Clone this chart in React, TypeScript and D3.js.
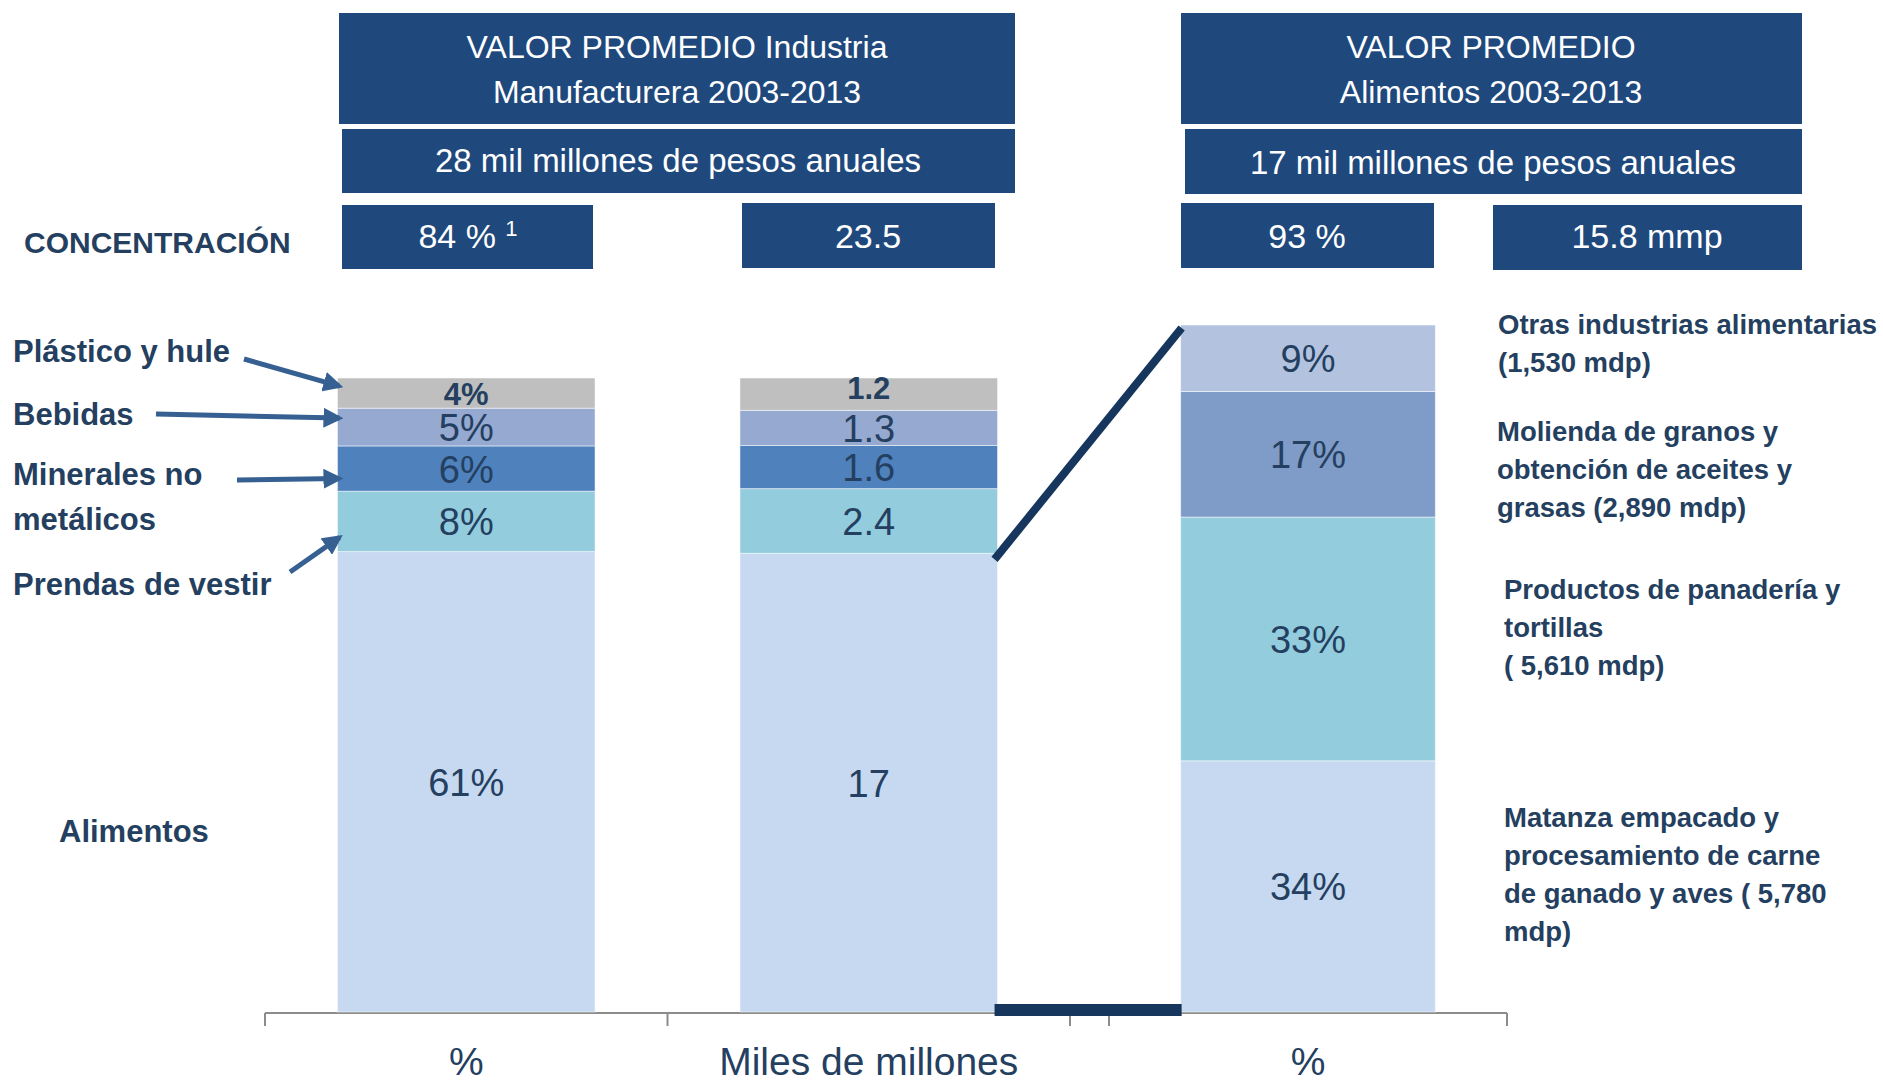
import React from 'react';
import * as d3 from 'd3';

// Industria manufacturera: five biggest branches
const sectors = ['Alimentos', 'Prendas de vestir', 'Minerales no metálicos', 'Bebidas', 'Plástico y hule'];
const sharePct = [61, 8, 6, 5, 4];
const valueMmp = [17, 2.4, 1.6, 1.3, 1.2];
const sectorColors = ['#C6D9F0', '#93CDDD', '#4F81BD', '#95A9D1', '#BFBFBF'];

// Alimentos: four branches
const foodBranches = ['Matanza', 'Panadería', 'Molienda', 'Otras'];
const foodPct = [34, 33, 17, 9];
const foodMdp = [5780, 5610, 2890, 1530];
const foodColors = ['#C6D9F0', '#93CDDD', '#7F9BC7', '#B3C3DF'];

const chart1Cats = ['%', 'Miles de millones'];
const chart2Cats = ['%'];

const W = 1883;
const H = 1084;
const NAVY = '#1F497D';
const INK = '#243F60';
const FONT = "'Liberation Sans', Arial, sans-serif";

const base = 1012;

const x1 = d3.scaleBand<string>().domain(chart1Cats).range([265, 1070]).paddingInner(0.36).paddingOuter(0.18);
const x2 = d3.scaleBand<string>().domain(chart2Cats).range([1109, 1507]).paddingInner(0.36).paddingOuter(0.18);
const y1 = d3.scaleLinear().domain([0, 1]).range([base, 378]);
const y2 = d3.scaleLinear().domain([0, 1]).range([base, 325]);

const rows1 = chart1Cats.map((c, i) => {
  const r: any = { cat: c };
  sectors.forEach((s, j) => { r[s] = i === 0 ? sharePct[j] : valueMmp[j]; });
  return r;
});
const stack1 = d3.stack<any>().keys(sectors).offset(d3.stackOffsetExpand)(rows1);

const row2: any = { cat: '%' };
foodBranches.forEach((b, j) => { row2[b] = foodPct[j]; });
const stack2 = d3.stack<any>().keys(foodBranches).offset(d3.stackOffsetExpand)([row2]);

const fmt = d3.format(',');
const totalPct = d3.sum(sharePct);
const totalMmp = d3.sum(valueMmp);
const foodTotalPct = d3.sum(foodPct);
const foodTotalMmp = d3.format('.1f')(d3.sum(foodMdp) / 1000);

// right side labels (lines, first baseline offset from segment center, x)
const foodLabels = [
  { lines: ['Matanza empacado y', 'procesamiento de carne', `de ganado y aves ( ${fmt(foodMdp[0])}`, 'mdp)'], dy: -59, x: 1504 },
  { lines: ['Productos de panadería y', 'tortillas', `( ${fmt(foodMdp[1])} mdp)`], dy: -40, x: 1504 },
  { lines: ['Molienda de granos y', 'obtención de aceites y', `grasas (${fmt(foodMdp[2])} mdp)`], dy: -13, x: 1497 },
  { lines: ['Otras industrias alimentarias', `(${fmt(foodMdp[3])} mdp)`], dy: -24, x: 1498 },
];

const Box = ({ x0, y0, x1b, y1b, children }: any) => (
  <g>
    <rect x={x0} y={y0} width={x1b - x0} height={y1b - y0} fill={NAVY} />
    {children}
  </g>
);

export default function App() {
  const segMid = (s: any) => (s[0][0] + s[0][1]) / 2;
  const bw1 = x1.bandwidth();
  const bw2 = x2.bandwidth();
  const alimTop = y1(stack1[0][1][1]);
  const bar2Right = (x1('Miles de millones') as number) + bw1;
  const bar3Left = x2('%') as number;

  // arrow targets on the % bar (left annotations)
  const leftBarX = (x1('%') as number) + 2;
  const arrowDefs = [
    { key: 'Plástico y hule', from: [244, 359], dy: -7 },
    { key: 'Bebidas', from: [156, 414], dy: -9 },
    { key: 'Minerales no metálicos', from: [237, 480], dy: 10 },
    { key: 'Prendas de vestir', from: [290, 572], dy: 16 },
  ];
  const topDy = [12, 5];

  return (
    <svg width={W} height={H} style={{ position: 'absolute', left: 0, top: 0, display: 'block', background: '#fff' }} fontFamily={FONT}>
      <defs>
        <marker id="ah" viewBox="0 0 10 10" refX="8" refY="5" markerWidth="4" markerHeight="4" orient="auto">
          <path d="M0,0 L10,5 L0,10 z" fill="#376092" />
        </marker>
      </defs>

      {/* header boxes */}
      <Box x0={339} y0={13} x1b={1015} y1b={124}>
        <text x={677} y={58} fill="#fff" fontSize={32} textAnchor="middle">VALOR PROMEDIO Industria</text>
        <text x={677} y={103} fill="#fff" fontSize={32} textAnchor="middle">Manufacturera 2003-2013</text>
      </Box>
      <Box x0={342} y0={129} x1b={1015} y1b={193}>
        <text x={678} y={172} fill="#fff" fontSize={33} textAnchor="middle">28 mil millones de pesos anuales</text>
      </Box>
      <Box x0={1181} y0={13} x1b={1802} y1b={124}>
        <text x={1491} y={58} fill="#fff" fontSize={32} textAnchor="middle">VALOR PROMEDIO</text>
        <text x={1491} y={103} fill="#fff" fontSize={32} textAnchor="middle">Alimentos 2003-2013</text>
      </Box>
      <Box x0={1185} y0={129} x1b={1802} y1b={194}>
        <text x={1493} y={174} fill="#fff" fontSize={33} textAnchor="middle">17 mil millones de pesos anuales</text>
      </Box>

      <text x={24} y={253} fill={INK} fontSize={30} fontWeight="bold">CONCENTRACIÓN</text>
      <Box x0={342} y0={205} x1b={593} y1b={269}>
        <text x={468} y={248} fill="#fff" fontSize={34} textAnchor="middle">
          {`${totalPct} % `}<tspan fontSize={22} dy={-12}>1</tspan>
        </text>
      </Box>
      <Box x0={742} y0={203} x1b={995} y1b={268}>
        <text x={868} y={248} fill="#fff" fontSize={34} textAnchor="middle">{totalMmp}</text>
      </Box>
      <Box x0={1181} y0={203} x1b={1434} y1b={268}>
        <text x={1307} y={248} fill="#fff" fontSize={34} textAnchor="middle">{`${foodTotalPct} %`}</text>
      </Box>
      <Box x0={1493} y0={205} x1b={1802} y1b={270}>
        <text x={1647} y={248} fill="#fff" fontSize={34} textAnchor="middle">{`${foodTotalMmp} mmp`}</text>
      </Box>

      {/* axis */}
      <g stroke="#8C8C8C" strokeWidth={2} fill="none">
        <line x1={265} x2={1070} y1={base + 1} y2={base + 1} />
        <line x1={1109} x2={1507} y1={base + 1} y2={base + 1} />
        {[265, 1070, 1109, 1507, (x1('Miles de millones') as number) - x1.step() * 0.18].map((t, i) => (
          <line key={i} x1={t} x2={t} y1={base + 1} y2={base + 14} />
        ))}
      </g>

      {/* chart 1 bars */}
      {stack1.map((layer, li) => (
        <g key={layer.key} fill={sectorColors[li]}>
          {layer.map((s: any, bi: number) => (
            <rect key={bi} x={x1(chart1Cats[bi])} y={y1(s[1])} width={bw1} height={y1(s[0]) - y1(s[1])}
              stroke="#fff" strokeOpacity={0.5} strokeWidth={1} />
          ))}
        </g>
      ))}
      {stack1.map((layer, li) =>
        layer.map((s: any, bi: number) => {
          const v = bi === 0 ? `${sharePct[li]}%` : `${valueMmp[li]}`;
          const isTop = li === sectors.length - 1;
          return (
            <text key={`${li}-${bi}`} x={(x1(chart1Cats[bi]) as number) + bw1 / 2} y={y1((s[0] + s[1]) / 2)}
              dy={isTop ? topDy[bi] : 14} textAnchor="middle" fill={INK}
              fontSize={isTop ? 31 : 38} fontWeight={isTop ? 'bold' : 'normal'}>{v}</text>
          );
        })
      )}

      {/* chart 2 bars */}
      {stack2.map((layer, li) => (
        <rect key={layer.key} x={bar3Left} y={y2(layer[0][1])} width={bw2} height={y2(layer[0][0]) - y2(layer[0][1])}
          fill={foodColors[li]} stroke="#fff" strokeOpacity={0.5} strokeWidth={1} />
      ))}
      {stack2.map((layer, li) => (
        <text key={layer.key} x={bar3Left + bw2 / 2} y={y2((layer[0][0] + layer[0][1]) / 2)} dy={14}
          textAnchor="middle" fill={INK} fontSize={38}>{`${foodPct[li]}%`}</text>
      ))}

      {/* zoom connectors */}
      <line x1={bar2Right - 3} y1={alimTop + 6} x2={bar3Left + 1} y2={y2(1) + 3} stroke="#17365D" strokeWidth={8} />
      <line x1={bar2Right - 3} x2={bar3Left + 1} y1={base - 2} y2={base - 2} stroke="#17365D" strokeWidth={12} />

      {/* left annotations */}
      <g fill={INK} fontSize={31} fontWeight="bold">
        <text x={13} y={362}>Plástico y hule</text>
        <text x={13} y={425}>Bebidas</text>
        <text x={13} y={485}>Minerales no</text>
        <text x={13} y={530}>metálicos</text>
        <text x={13} y={595}>Prendas de vestir</text>
        <text x={59} y={842}>Alimentos</text>
      </g>
      {arrowDefs.map(a => {
        const li = sectors.indexOf(a.key);
        const ty = y1(segMid(stack1[li])) + a.dy;
        return (
          <line key={a.key} x1={a.from[0]} y1={a.from[1]} x2={leftBarX} y2={ty}
            stroke="#376092" strokeWidth={5} markerEnd="url(#ah)" />
        );
      })}

      {/* right annotations */}
      {foodLabels.map((l, li) => {
        const cy = y2(segMid(stack2[li]));
        return (
          <text key={li} fill={INK} fontSize={27.5} fontWeight="bold">
            {l.lines.map((t, k) => (
              <tspan key={k} x={l.x} y={cy + l.dy + k * 38}>{t}</tspan>
            ))}
          </text>
        );
      })}

      {/* category labels */}
      {chart1Cats.map(c => (
        <text key={c} x={(x1(c) as number) + bw1 / 2} y={1075} textAnchor="middle" fill={INK} fontSize={39}>{c}</text>
      ))}
      {chart2Cats.map(c => (
        <text key={c} x={(x2(c) as number) + bw2 / 2} y={1075} textAnchor="middle" fill={INK} fontSize={39}>{c}</text>
      ))}
    </svg>
  );
}
